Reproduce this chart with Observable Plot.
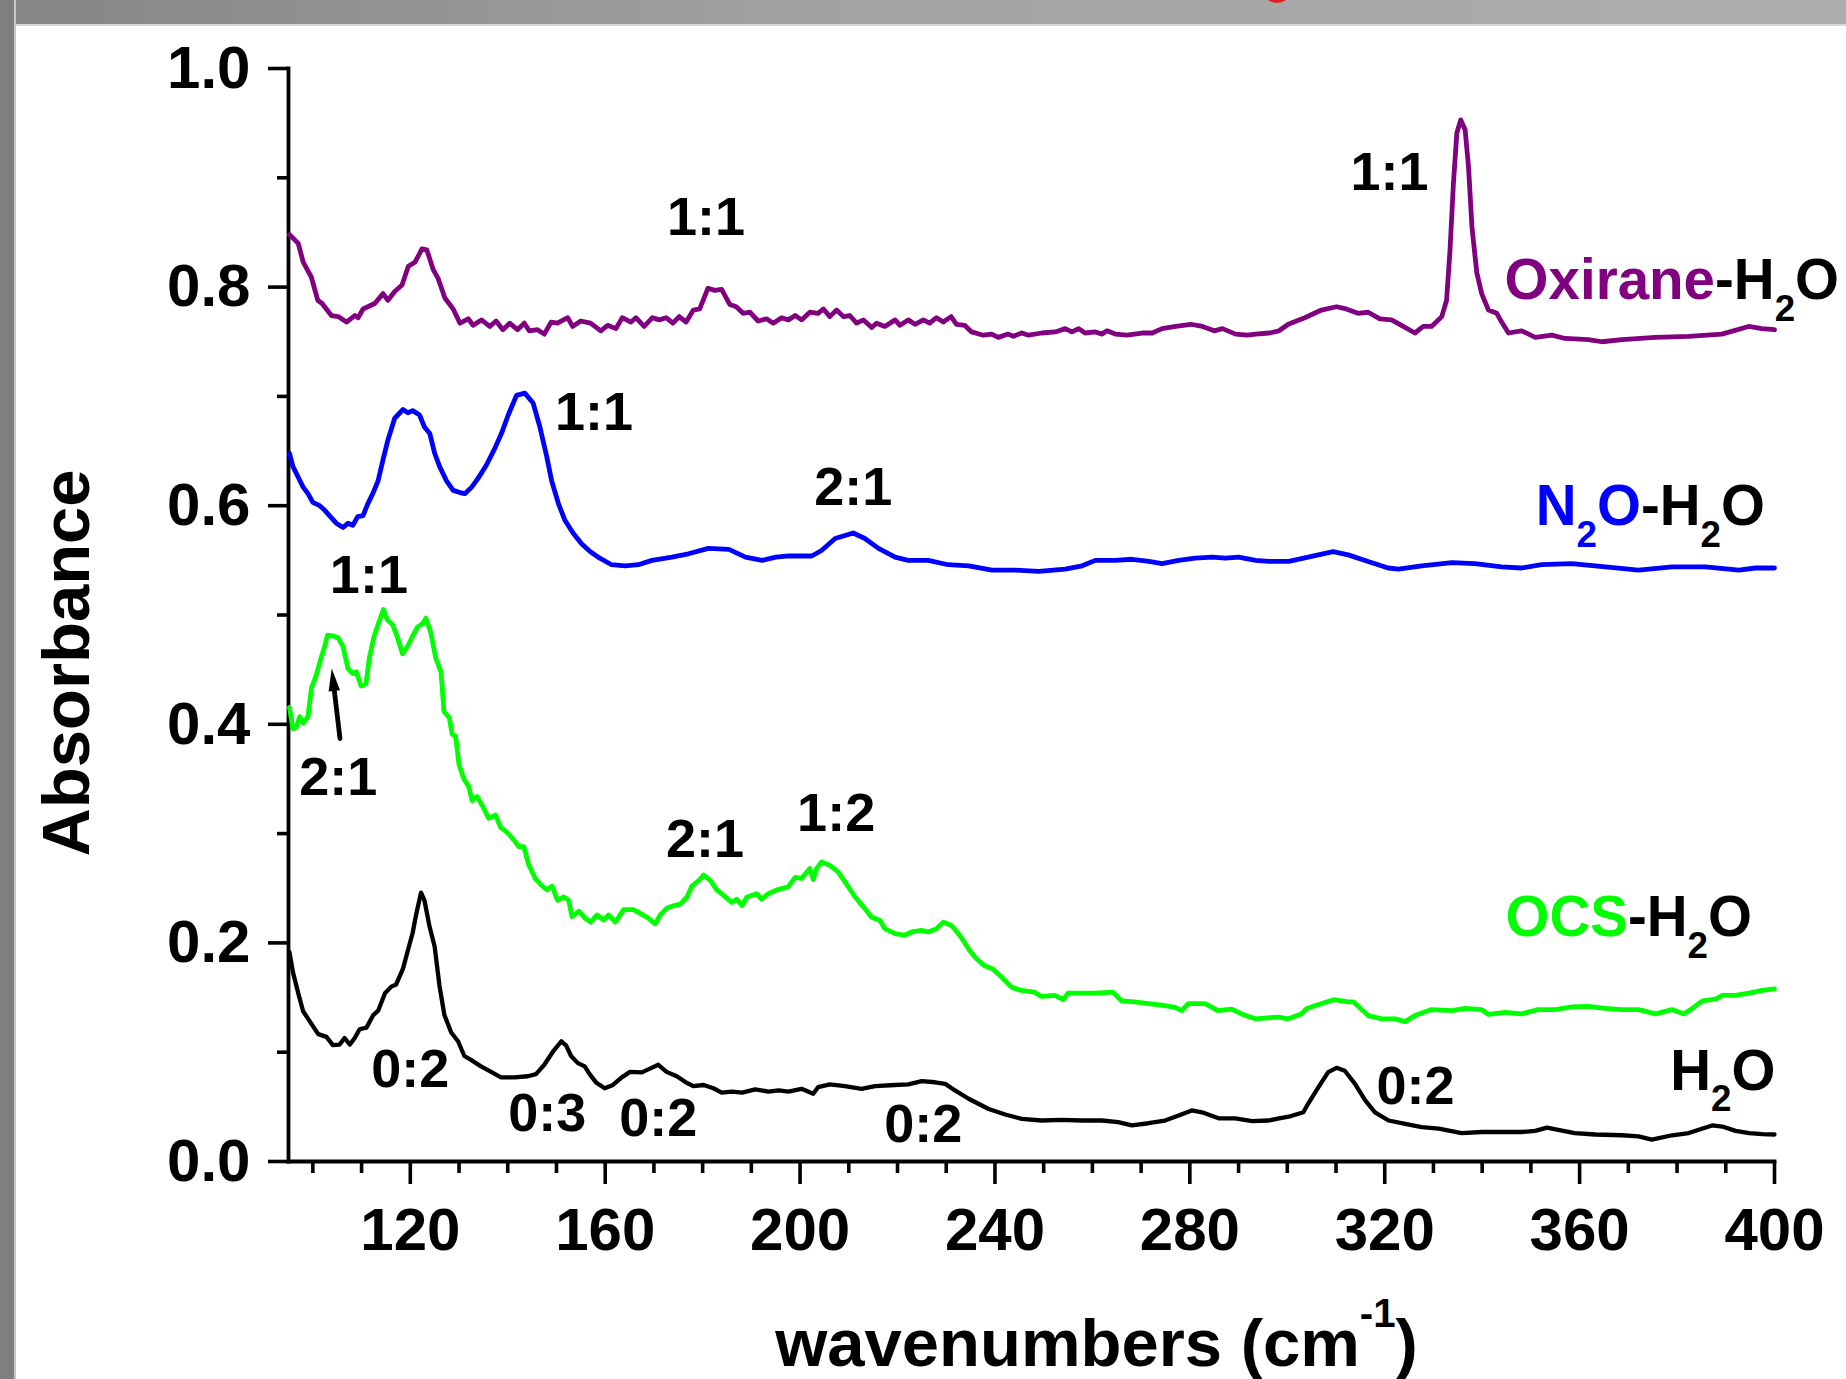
<!DOCTYPE html>
<html>
<head>
<meta charset="utf-8">
<script src="https://cdn.jsdelivr.net/npm/d3@7"></script>
<script src="https://cdn.jsdelivr.net/npm/@observablehq/plot@0.6"></script>
<style>
  html, body { margin: 0; padding: 0; background: #fff; }
  #page { position: relative; width: 1846px; height: 1379px; overflow: hidden; background: #fff; }
  #page svg { position: absolute; left: 0; top: 0; }
  .band-top { position: absolute; left: 0; top: 0; width: 1846px; height: 24px;
    background: linear-gradient(to right, #858585 0%, #a2a2a2 45%, #aeaeae 100%);
    border-bottom: 2px solid #d6d6d6; z-index: 2; }
  .band-left { position: absolute; left: 0; top: 0; width: 14px; height: 1379px;
    background: #7f7f7f; border-right: 2px solid #c8c8c8; z-index: 3; }
  .red-arc { position: absolute; left: 1262px; top: -27px; width: 24px; height: 24px;
    border: 3px solid #e02020; border-radius: 50%; z-index: 4; }
</style>
</head>
<body>
<div id="page">
  <div class="band-top"></div>
  <div class="band-left"></div>
  <div class="red-arc"></div>
</div>
<script>
// ---------- data: [wavenumber (cm-1), absorbance] ----------
const oxirane = [[95.2,.848],[97,.840],[98,.823],[99.7,.809],[101,.788],[101.9,.785],[103.8,.774],[105.2,.773],[106.9,.768],[108.6,.774],[109.3,.772],[110.3,.780],[112.7,.785],[114.4,.794],[115.4,.788],[116.8,.796],[118.3,.802],[119.6,.819],[121,.823],[122.4,.835],[123.4,.834],[124.7,.816],[125.7,.808],[127.1,.790],[128.8,.780],[130.2,.767],[131.9,.771],[132.9,.765],[134.6,.770],[136.3,.764],[137.6,.769],[139,.761],[140.4,.767],[142,.761],[143.4,.767],[144.4,.760],[146.1,.761],[147.5,.757],[148.9,.768],[150.2,.767],[152.3,.772],[153.3,.764],[155,.769],[157,.767],[159.1,.760],[160.5,.765],[162.2,.762],[163.5,.772],[165.3,.768],[166.3,.772],[168,.764],[169.7,.772],[171.1,.770],[172.5,.772],[173.9,.767],[175.2,.773],[176.6,.768],[178.1,.779],[179.4,.780],[181.1,.799],[182.5,.797],[183.9,.798],[185.6,.784],[186.9,.782],[188.3,.776],[189.7,.777],[191.4,.769],[193.1,.771],[194.5,.767],[196.2,.772],[197.6,.770],[199,.774],[200.3,.770],[202,.777],[203.7,.776],[204.8,.780],[206.1,.773],[207.5,.779],[208.9,.773],[210.2,.774],[211.6,.767],[213,.770],[214.7,.763],[215.7,.767],[217.4,.764],[219.5,.770],[220.5,.765],[222.2,.770],[223.6,.766],[225.3,.770],[226.6,.767],[228,.772],[229.4,.768],[231,.773],[232.1,.766],[233.8,.765],[235.2,.759],[237.6,.756],[239.3,.757],[240.7,.754],[242.7,.757],[243.8,.755],[245.5,.758],[246.9,.756],[249.6,.758],[252.4,.759],[254.4,.762],[255.8,.759],[257.2,.762],[258.5,.758],[260.6,.759],[262,.757],[263,.760],[264.7,.757],[267.1,.756],[270.2,.758],[272.3,.758],[274.3,.762],[277.1,.764],[280.2,.766],[282.6,.764],[285,.760],[286.7,.762],[289.4,.757],[291.8,.756],[293.5,.757],[296.3,.758],[298.3,.760],[300.2,.766],[303.6,.772],[307,.779],[310.1,.782],[312.1,.780],[314.5,.776],[316.6,.777],[319,.771],[321.4,.770],[323.8,.764],[326.2,.758],[327.9,.764],[329.6,.764],[331.7,.773],[332.7,.788],[333.4,.834],[334.1,.895],[334.8,.941],[335.6,.953],[336.5,.944],[337.2,.910],[337.9,.855],[338.9,.813],[339.9,.794],[341.3,.779],[343,.776],[344,.768],[345.4,.758],[348.1,.760],[350.9,.754],[354.3,.756],[357,.753],[361.8,.752],[364.6,.750],[368.7,.752],[375.5,.754],[382.4,.755],[389.2,.757],[394.7,.764],[397.4,.762],[400,.761]];

const n2o = [[95.2,.648],[95.9,.636],[97,.626],[98,.617],[99,.611],[100,.603],[101.4,.600],[102.4,.596],[103.4,.591],[104.8,.584],[106.2,.580],[107.2,.584],[108.2,.582],[109.2,.590],[110.3,.591],[111.3,.602],[112.3,.611],[113.4,.623],[114.4,.642],[115.4,.660],[116.8,.680],[118.5,.688],[119.5,.685],[120.5,.687],[121.9,.683],[122.9,.672],[124,.666],[125,.648],[126,.636],[127.4,.623],[128.8,.614],[130.2,.612],[131.2,.611],[132.6,.617],[133.9,.625],[135.6,.637],[137.3,.652],[138.7,.666],[140.1,.683],[141.8,.701],[143.5,.703],[145.2,.694],[146.6,.672],[148,.645],[149,.623],[150.4,.602],[151.7,.587],[153.4,.575],[155.2,.565],[156.9,.558],[158.9,.552],[161.3,.546],[164.1,.545],[166.8,.546],[169.6,.550],[173.7,.553],[177.1,.556],[181.2,.561],[185.4,.560],[188.8,.553],[192.2,.550],[195,.553],[197.7,.554],[202.4,.554],[204.4,.559],[207.2,.570],[210.9,.575],[213.3,.570],[216.1,.561],[219.5,.553],[222.2,.550],[226.3,.550],[230.4,.546],[234.6,.545],[239.4,.541],[244.2,.541],[249,.540],[254.4,.542],[257.9,.545],[260.6,.550],[264.7,.550],[268.1,.551],[271.6,.549],[274.3,.547],[277.7,.550],[281.1,.552],[284.6,.553],[287.3,.552],[290,.553],[293.5,.550],[296.2,.549],[300.3,.549],[304.3,.553],[309.4,.558],[312.5,.555],[316.6,.549],[320.7,.543],[322.8,.542],[327.6,.545],[333.8,.548],[338.5,.547],[344,.544],[348.1,.543],[352.2,.546],[358.4,.547],[365.3,.544],[372.1,.541],[379,.544],[385.8,.544],[392.7,.541],[396.1,.543],[400,.543]];

const ocs = [[95.2,.4155],[95.9,.396],[96.6,.397],[97.3,.407],[98,.401],[99,.407],[99.7,.433],[100.7,.445],[101.7,.461],[102.4,.471],[103,.4815],[104.1,.481],[105.2,.479],[106.2,.471],[107.2,.451],[108.2,.4465],[108.9,.448],[109.9,.435],[110.9,.437],[111.6,.461],[112.6,.481],[113.6,.494],[114.5,.505],[115.3,.4955],[116.4,.491],[117.4,.479],[118.4,.4645],[119.4,.471],[120.5,.481],[121.5,.489],[122.5,.492],[123.2,.497],[124.2,.484],[125.2,.461],[126.3,.448],[126.9,.412],[128,.406],[128.6,.391],[129.3,.389],[130,.363],[131,.350],[132,.343],[132.7,.330],[133.7,.334],[134.8,.3255],[136.1,.314],[137.5,.317],[138.5,.306],[139.9,.301],[141.2,.2945],[142.3,.288],[143.3,.288],[144.3,.2715],[145.7,.2585],[147.1,.252],[148.1,.2485],[149.1,.252],[150.2,.239],[151.5,.242],[152.5,.239],[153.2,.224],[154.6,.229],[155.9,.2225],[157,.219],[158.3,.2255],[159.7,.221],[160.7,.2255],[162.1,.219],[163.8,.2305],[165.8,.2305],[167.2,.227],[168.9,.2225],[170.3,.2175],[171.3,.2255],[172.7,.232],[174,.234],[175.4,.2355],[176.8,.242],[177.8,.252],[179.2,.257],[180.2,.262],[181.6,.257],[182.9,.2485],[184.3,.2435],[186,.237],[187,.240],[188.1,.234],[189.1,.242],[191.1,.245],[192.1,.240],[193.5,.245],[195.2,.2485],[197.5,.251],[199,.260],[200.3,.259],[202,.268],[202.7,.258],[203.4,.268],[204.4,.274],[206.1,.271],[207.8,.265],[209.5,.254],[211.3,.242],[213,.233],[214.7,.2235],[216.4,.2205],[217.4,.213],[219.5,.2085],[221.5,.207],[222.9,.210],[224.9,.2115],[226.3,.210],[228,.213],[229.4,.219],[231.1,.216],[233.1,.205],[234.8,.193],[236.2,.1855],[237.9,.179],[239.6,.176],[241.3,.169],[243.4,.1595],[245.4,.1565],[248.1,.155],[249.5,.151],[252.3,.152],[254,.148],[255,.154],[257.7,.154],[260.5,.154],[262.5,.1545],[264.2,.155],[266,.147],[268.7,.146],[271.5,.1445],[274.2,.143],[277,.141],[278.3,.138],[279.7,.1445],[283.1,.1445],[285.8,.138],[288.6,.1395],[290.6,.135],[293.4,.1305],[296.1,.1315],[298.2,.132],[300.2,.1305],[302.9,.135],[304,.140],[307.1,.1445],[309.5,.148],[312.5,.146],[313.6,.146],[316.6,.1335],[319.4,.1305],[322.1,.1305],[324.2,.128],[326.2,.1335],[329.6,.139],[333.8,.138],[336.5,.140],[339.9,.139],[341.3,.1345],[344.7,.1365],[348.1,.135],[351.5,.139],[355,.139],[358.4,.1415],[361.8,.142],[365.3,.140],[368.7,.139],[372.1,.139],[375.6,.135],[379,.139],[381.4,.135],[383.1,.140],[385.2,.147],[387.9,.1485],[389.3,.152],[392,.152],[394.8,.154],[397.5,.1565],[400,.158]];

const h2o = [[95.2,.1915],[95.9,.1735],[97,.154],[98,.1375],[99.4,.128],[101.1,.1165],[102.8,.114],[104.1,.1065],[105.5,.107],[106.5,.113],[107.6,.107],[108.6,.113],[109.6,.121],[111,.1225],[112.4,.134],[113.4,.138],[114.8,.154],[116.1,.160],[117.1,.162],[118.5,.1765],[119.5,.193],[120.5,.2095],[121.2,.226],[122.2,.246],[122.9,.239],[123.9,.216],[125,.1965],[126,.1605],[127,.134],[128.4,.118],[129.8,.110],[131.1,.0965],[132.8,.092],[134.5,.087],[136.6,.082],[138.6,.077],[141.4,.077],[144.1,.078],[145.8,.080],[147.5,.0885],[149.2,.100],[151,.110],[152,.106],[153,.0965],[154.4,.090],[155.8,.087],[156.8,.080],[158.2,.072],[159.9,.067],[161.6,.070],[163.4,.077],[165.1,.082],[167.5,.0815],[169.2,.085],[170.9,.0885],[172.6,.082],[174.7,.078],[176.7,.072],[178.1,.069],[180.2,.070],[182.2,.067],[183.9,.063],[186,.064],[188.1,.063],[190.8,.066],[193.5,.064],[195.6,.065],[197.6,.064],[200.3,.0665],[202.7,.062],[203.7,.068],[206.1,.0705],[209.2,.069],[212.6,.0665],[215.4,.069],[219.5,.070],[222.2,.0705],[225,.0735],[227.7,.0725],[229.8,.071],[231.8,.065],[234.6,.0574],[238.7,.048],[242.1,.043],[245.5,.039],[249.6,.0375],[253.7,.038],[257.8,.0375],[261.9,.0375],[265.3,.036],[268.1,.033],[271.5,.035],[274.9,.0375],[277.7,.042],[280.4,.0467],[282.5,.045],[285.9,.0395],[289.3,.0395],[292.8,.037],[296.2,.0375],[298.3,.0395],[300.3,.041],[303.3,.045],[304.3,.053],[306.4,.068],[308.4,.0817],[310.1,.0857],[311.8,.083],[313.9,.071],[316,.056],[318,.045],[320.8,.0375],[324.2,.0345],[327.6,.0315],[331.1,.030],[335.8,.026],[339.9,.027],[344,.027],[348.1,.027],[350.9,.028],[353.3,.031],[355.6,.029],[359,.026],[363.2,.0247],[368.7,.024],[372.1,.023],[374.8,.020],[379,.024],[382.4,.026],[385.1,.030],[387.2,.033],[389.3,.032],[392,.028],[394.8,.026],[397.5,.025],[400,.0247]];

// ---------- ticks ----------
const xMajor = [120, 160, 200, 240, 280, 320, 360, 400];
const xMinor = [100, 110, 130, 140, 150, 170, 180, 190, 210, 220, 230, 250, 260, 270, 290, 300, 310, 330, 340, 350, 370, 380, 390];
const yMajor = [0, 0.2, 0.4, 0.6, 0.8, 1.0];
const yMinor = [0.1, 0.3, 0.5, 0.7, 0.9];

// ---------- annotations (data coordinates: text centre, baseline) ----------
const peakLabels = [
  {t: "1:1", x: 180.7, y: 0.848},
  {t: "1:1", x: 321.0, y: 0.889},
  {t: "1:1", x: 157.7, y: 0.669},
  {t: "2:1", x: 210.9, y: 0.601},
  {t: "1:1", x: 111.5, y: 0.520},
  {t: "2:1", x: 105.2, y: 0.335},
  {t: "2:1", x: 180.5, y: 0.279},
  {t: "1:2", x: 207.4, y: 0.302},
  {t: "0:2", x: 120.0, y: 0.068},
  {t: "0:3", x: 148.1, y: 0.028},
  {t: "0:2", x: 170.9, y: 0.023},
  {t: "0:2", x: 225.3, y: 0.018},
  {t: "0:2", x: 326.3, y: 0.053}
];
// series names: "§" switches the rest to black, "_x" is a subscript
const seriesNames = [
  {t: "Oxirane§-H_2O", x: 344.6, y: 0.789, c: "#800080"},
  {t: "N_2O§-H_2O", x: 351.0, y: 0.582, c: "#0000ff"},
  {t: "OCS§-H_2O", x: 344.8, y: 0.206, c: "#00ff00"},
  {t: "H_2O", x: 378.6, y: 0.0656, c: "#000000"}
];
// arrow pointing at the OCS 2:1 shoulder (tail -> tip)
const arrows = [{x1: 105.57, y1: 0.387, x2: 103.87, y2: 0.451}];

// filled, narrow arrowhead (tip at the symbol origin, pointing along the shaft)
const arrowHead = {
  draw(ctx) {
    ctx.moveTo(0, 0);
    ctx.lineTo(8.3, 21.6);
    ctx.lineTo(-3.1, 22.9);
    ctx.closePath();
  }
};

const font = "'Liberation Sans', Arial, Helvetica, sans-serif";
const px = d => d[0], py = d => d[1];

const chart = Plot.plot({
  width: 1846,
  height: 1379,
  marginLeft: 288,
  marginRight: 72,
  marginTop: 68,
  marginBottom: 218,
  x: {domain: [95, 400]},
  y: {domain: [0, 1]},
  color: {type: "identity"},
  style: {fontFamily: font, fontWeight: "bold", background: "transparent", overflow: "visible", maxWidth: "none"},
  marks: [
    Plot.axisY(yMinor, {tickSize: 11, strokeWidth: 3.6, tickFormat: () => "", label: null}),
    Plot.axisY(yMajor, {tickSize: 20, tickPadding: 18, strokeWidth: 3.6, fontSize: 60, fill: "black", tickFormat: d3.format(".1f"), label: null}),
    Plot.axisX(xMinor, {tickSize: 12, strokeWidth: 3.6, tickFormat: () => "", label: null}),
    Plot.axisX(xMajor, {tickSize: 23, tickPadding: 23, strokeWidth: 3.6, fontSize: 60, fill: "black", tickFormat: d => String(d), label: null}),
    Plot.frame({anchor: "left", strokeWidth: 3.8, stroke: "black", strokeLinecap: "square"}),
    Plot.frame({anchor: "bottom", strokeWidth: 3.8, stroke: "black", strokeLinecap: "square"}),
    Plot.line(h2o, {x: px, y: py, stroke: "#000000", strokeWidth: 4.3, strokeLinejoin: "round"}),
    Plot.line(ocs, {x: px, y: py, stroke: "#00ff00", strokeWidth: 4.8, strokeLinejoin: "round"}),
    Plot.line(n2o, {x: px, y: py, stroke: "#0000ff", strokeWidth: 4.8, strokeLinejoin: "round"}),
    Plot.line(oxirane, {x: px, y: py, stroke: "#800080", strokeWidth: 4.8, strokeLinejoin: "round"}),
    Plot.arrow(arrows, {x1: "x1", y1: "y1", x2: "x2", y2: "y2", stroke: "black", strokeWidth: 4.8, headLength: 0, insetEnd: 18}),
    Plot.dot(arrows, {x: "x2", y: "y2", symbol: arrowHead, r: 10, fill: "black", stroke: "none"}),
    Plot.text(peakLabels, {x: "x", y: "y", text: "t", fontSize: 54, fill: "black", textAnchor: "middle", lineAnchor: "bottom"}),
    Plot.text(seriesNames, {x: "x", y: "y", text: "t", fill: d => d.c, fontSize: 56.5, textAnchor: "start", lineAnchor: "bottom"}),
    Plot.text(["Absorbance"], {text: d => d, frameAnchor: "left", rotate: -90, dx: -200, dy: 48, fontSize: 67, fill: "black", textAnchor: "middle", lineAnchor: "bottom"}),
    Plot.text(["wavenumbers (cm^{-1})"], {text: d => d, frameAnchor: "bottom", dx: 65, dy: 204, fontSize: 67, fill: "black", textAnchor: "middle", lineAnchor: "bottom"})
  ]
});

const page = document.getElementById("page");
page.appendChild(chart);

// rich text: subscripts, superscripts and colour switch
const NS = "http://www.w3.org/2000/svg";
chart.querySelectorAll("text").forEach(t => {
  const s = t.textContent;
  if (!/[_^§]/.test(s)) return;
  const F = parseFloat(getComputedStyle(t).fontSize) || 58;
  const segs = [];
  let fill = null, i = 0;
  while (i < s.length) {
    const c = s[i];
    if (c === "§") { fill = "#000000"; i++; continue; }
    if (c === "_") { segs.push({text: s[i + 1], fill, mode: "sub"}); i += 2; continue; }
    if (c === "^") { const j = s.indexOf("}", i); segs.push({text: s.slice(i + 2, j), fill, mode: "sup"}); i = j + 1; continue; }
    let j = i;
    while (j < s.length && !"§_^".includes(s[j])) j++;
    segs.push({text: s.slice(i, j), fill, mode: "normal"});
    i = j;
  }
  t.textContent = "";
  let shift = 0;
  for (const seg of segs) {
    const ts = document.createElementNS(NS, "tspan");
    ts.textContent = seg.text;
    if (seg.fill) ts.setAttribute("fill", seg.fill);
    const target = seg.mode === "sub" ? 0.38 * F : seg.mode === "sup" ? -0.57 * F : 0;
    const dy = target - shift;
    if (dy) ts.setAttribute("dy", dy.toFixed(2));
    shift = target;
    if (seg.mode === "sub") ts.setAttribute("font-size", (0.65 * F).toFixed(1));
    if (seg.mode === "sup") ts.setAttribute("font-size", (0.6 * F).toFixed(1));
    t.appendChild(ts);
  }
});
</script>
</body>
</html>
